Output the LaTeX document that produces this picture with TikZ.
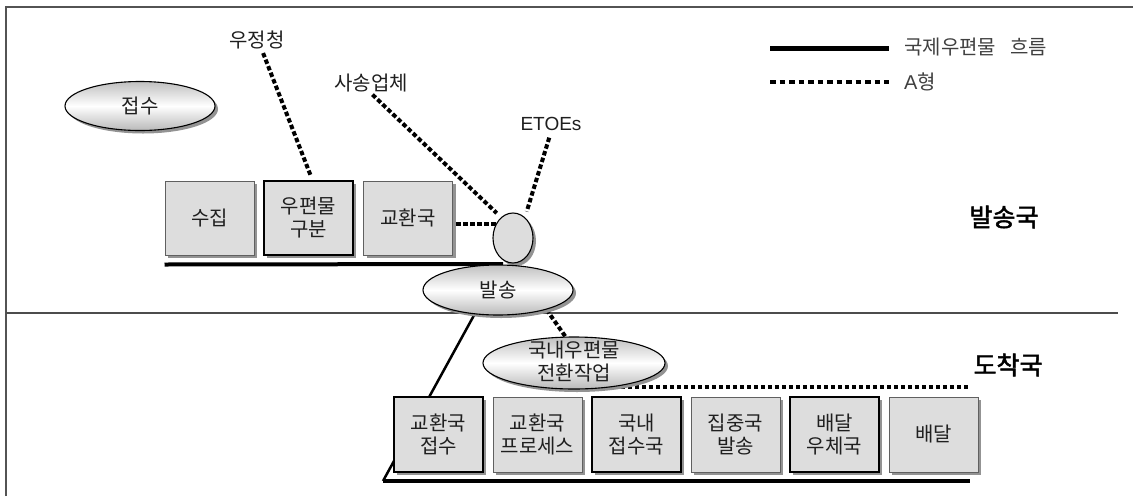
\documentclass[tikz,border=0pt]{standalone}
\usepackage{fontspec}
\newfontfamily\kr{Noto Sans CJK KR}
\newfontfamily\krb{Noto Sans CJK KR}[FakeBold=2]
\newfontfamily\lat{Liberation Sans}
\usetikzlibrary{shapes.geometric,shadows}
\pgfdeclarelayer{bg}
\pgfsetlayers{bg,main}
\tikzset{
  txt/.style={font=\kr\fontsize{20}{23}\selectfont, inner sep=1pt, text=black!88, align=center},
  shad/.style={drop shadow={shadow xshift=3pt, shadow yshift=-3pt, fill=gray!85, opacity=1}},
  boxd/.style={txt, rectangle, draw=black, line width=1.4pt, fill=gray!27,
    minimum width=89pt, minimum height=75pt, shad},
  boxl/.style={boxd, draw=gray!75!black, line width=1pt},
  oval/.style={txt, ellipse, draw=black, line width=1.1pt, top color=gray!50,
    bottom color=gray!55, middle color=white, inner sep=0pt, shad},
  adash/.style={line width=4pt, dash pattern=on 4.5pt off 2.5pt, black},
  flow/.style={line width=4pt, black},
  framel/.style={gray!65!black, line width=1.6pt},
  sepl/.style={gray!60!black, line width=1.2pt},
}
\begin{document}
\begin{tikzpicture}[x=1pt, y=-1pt]
\useasboundingbox (0,0) rectangle (1133,496);

% legend
\coordinate (l1a) at (770,48); \coordinate (l1b) at (889,48);
\coordinate (l2a) at (770,82); \coordinate (l2b) at (889,82);
\node[txt, anchor=west, text=black!75] (lg1) at (903,47) {국제우편물\hspace{0.7em}흐름};
\node[txt, anchor=west, text=black!75] (lg2) at (903,82) {{\lat A}형};

% region labels
\node[font=\krb\fontsize{25}{30}\selectfont] (sendc) at (1004,217) {발송국};
\node[font=\krb\fontsize{25}{30}\selectfont] (arrc) at (1008,365) {도착국};

% top labels
\node[txt] (wj) at (257,40) {우정청};
\node[txt] (ss) at (371,83) {사송업체};
\node[txt, font=\lat\fontsize{19}{22}\selectfont] (et) at (551,124) {ETOEs};

% ellipses
\node[oval, minimum width=150pt, minimum height=49pt] (jeopsu) at (140,106) {접수};

% top row boxes
\node[boxl, minimum height=74pt] (su) at (209.5,218) {수집};
\node[boxd, minimum height=74pt] (gubun) at (308.5,218) {우편물\\구분};
\node[boxl, minimum height=74pt] (ex) at (408,218) {교환국};

\node[ellipse, draw=black, line width=1.1pt, fill=gray!27, minimum width=40pt, minimum height=50pt, inner sep=0pt, shad] (small) at (513,238) {};
\node[oval, minimum width=150pt, minimum height=50pt] (send) at (498,290) {발송};
\node[oval, minimum width=182pt, minimum height=52pt] (dom) at (574,363) {};
\node[txt] (domt) at (574,362) {국내우편물\\전환작업};

% bottom row boxes
\node[boxd] (b1x) at (438.5,434.5) {교환국\\접수};
\node[boxl] (b2x) at (537.5,434.5) {교환국\\프로세스};
\node[boxd] (b3x) at (636.5,434.5) {국내\\접수국};
\node[boxl] (b4x) at (735.5,434.5) {집중국\\발송};
\node[boxd] (b5x) at (834.5,434.5) {배달\\우체국};
\node[boxl] (b6x) at (933.5,434.5) {배달};

\coordinate (t1end) at (503,264);
\coordinate (bl) at (383,481);
\coordinate (br) at (970,481);
\coordinate (dotend) at (968,387);

\begin{pgfonlayer}{bg}
  \draw[framel] (6,496) -- (6,7) -- (1133,7);
  \draw[sepl] (6,313) -- (1118,313);
  \draw[flow, line width=5pt] (l1a) -- (l1b);
  \draw[line width=4.5pt, dash pattern=on 5.5pt off 4pt] (l2a) -- (l2b);
  \draw[flow] ([yshift=-9pt]su.south west) -- (t1end);
  \draw[flow] (bl) -- (br);
  \draw[line width=2.5pt] (send.226) -- (bl);
  \draw[adash] (send.-22) -- (dom.108);
  \draw[adash] (dom.-31) -- (dom.-31 -| dotend);
  \draw[adash] (small.140) -- (small.140 -| ex.east);
  \draw[adash, shorten <=3pt, shorten >=4pt] ([xshift=5pt]wj.south) -- ([xshift=4pt]gubun.north);
  \draw[adash, shorten <=2pt, shorten >=6pt] (ss.south) -- (small.120);
  \draw[adash, shorten <=6pt, shorten >=6pt] (et.south) -- (small.60);
\end{pgfonlayer}
\end{tikzpicture}
\end{document}
